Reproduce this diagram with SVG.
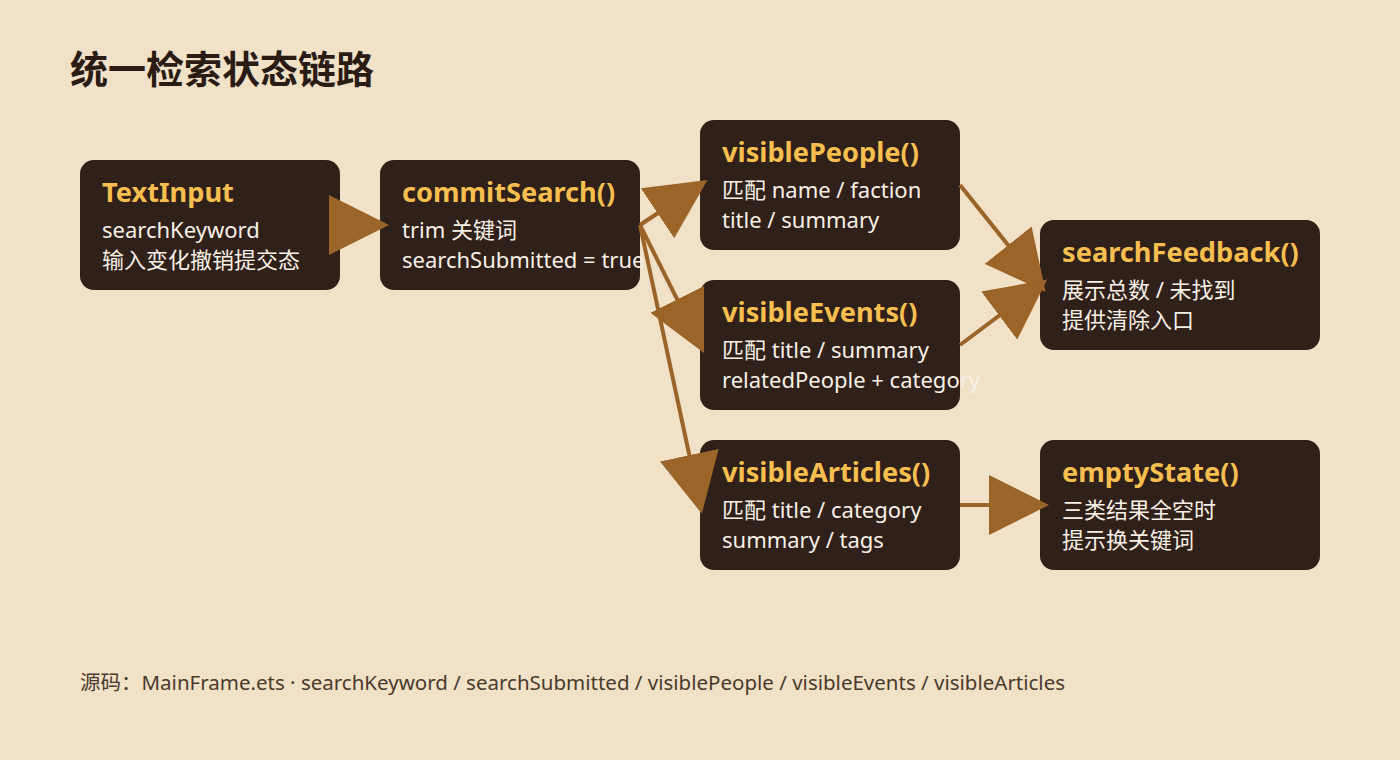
<svg xmlns="http://www.w3.org/2000/svg" width="1400" height="760" viewBox="0 0 1400 760">
<style>
.box{fill:#2f2019}
.t{font-family:"Noto Sans","Noto Sans CJK SC",sans-serif;font-size:27.2px;font-weight:700;fill:#f7bf4f}
.b{font-family:"Noto Sans","Noto Sans CJK SC",sans-serif;font-size:22px;fill:#f7f0e6}
.edge{stroke:#9b6429;stroke-width:4;fill:none;marker-end:url(#ah)}
</style>
<defs>
<marker id="ah" viewBox="0 0 10 10" refX="8.5" refY="5" markerWidth="15" markerHeight="15" markerUnits="strokeWidth" orient="auto">
<path d="M0,0 L10,5 L0,10 Z" fill="#9b6429"/>
</marker>
</defs>
<rect width="1400" height="760" fill="#f0e1c7"/>
<text x="70" y="83" font-family="Noto Sans CJK SC,sans-serif" font-size="38" font-weight="700" fill="#2a1c14">统一检索状态链路</text>
<g id="n-textinput"><rect class="box" x="80" y="160" width="260" height="130" rx="14"/><text class="t" x="102" y="202">TextInput</text><text class="b" x="102" y="238">searchKeyword</text><text class="b" x="102" y="268">输入变化撤销提交态</text></g>
<g id="n-commit"><rect class="box" x="380" y="160" width="260" height="130" rx="14"/><text class="t" x="402" y="202">commitSearch()</text><text class="b" x="402" y="238">trim 关键词</text><text class="b" x="402" y="268">searchSubmitted = true</text></g>
<g id="n-people"><rect class="box" x="700" y="120" width="260" height="130" rx="14"/><text class="t" x="722" y="162">visiblePeople()</text><text class="b" x="722" y="198">匹配 name / faction</text><text class="b" x="722" y="228">title / summary</text></g>
<g id="n-events"><rect class="box" x="700" y="280" width="260" height="130" rx="14"/><text class="t" x="722" y="322">visibleEvents()</text><text class="b" x="722" y="358">匹配 title / summary</text><text class="b" x="722" y="388">relatedPeople + category</text></g>
<g id="n-articles"><rect class="box" x="700" y="440" width="260" height="130" rx="14"/><text class="t" x="722" y="482">visibleArticles()</text><text class="b" x="722" y="518">匹配 title / category</text><text class="b" x="722" y="548">summary / tags</text></g>
<g id="n-feedback"><rect class="box" x="1040" y="220" width="280" height="130" rx="14"/><text class="t" x="1062" y="262">searchFeedback()</text><text class="b" x="1062" y="298">展示总数 / 未找到</text><text class="b" x="1062" y="328">提供清除入口</text></g>
<g id="n-empty"><rect class="box" x="1040" y="440" width="280" height="130" rx="14"/><text class="t" x="1062" y="482">emptyState()</text><text class="b" x="1062" y="518">三类结果全空时</text><text class="b" x="1062" y="548">提示换关键词</text></g>
<g id="connectors">
<line class="edge" x1="340" y1="225" x2="380" y2="225"/>
<line class="edge" x1="640" y1="225" x2="700" y2="185"/>
<line class="edge" x1="640" y1="225" x2="700" y2="345"/>
<line class="edge" x1="640" y1="225" x2="700" y2="505"/>
<line class="edge" x1="960" y1="185" x2="1040" y2="285"/>
<line class="edge" x1="960" y1="345" x2="1040" y2="285"/>
<line class="edge" x1="960" y1="505" x2="1040" y2="505"/>
</g>
<text x="80" y="690" font-family="Noto Sans,Noto Sans CJK SC,sans-serif" font-size="20.5" fill="#4a3a2d">源码：MainFrame.ets · searchKeyword / searchSubmitted / visiblePeople / visibleEvents / visibleArticles</text>
</svg>
